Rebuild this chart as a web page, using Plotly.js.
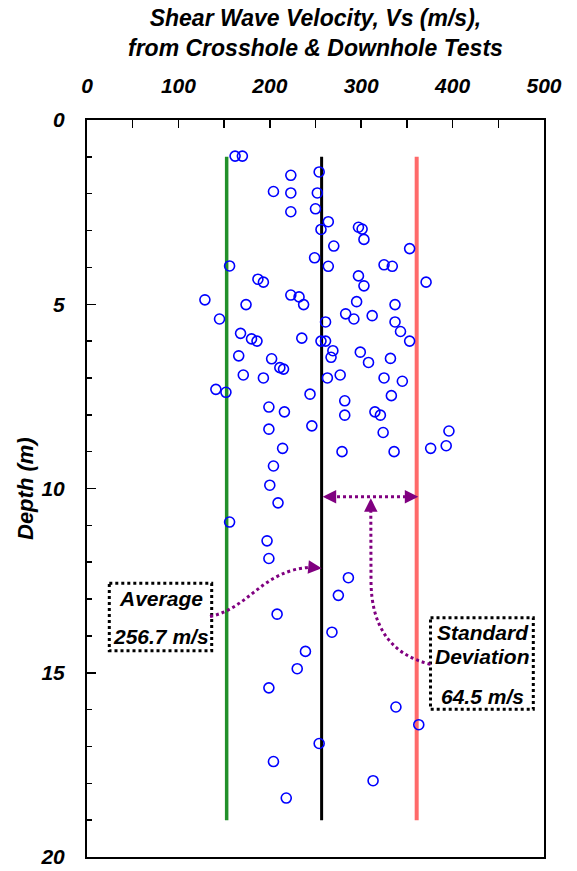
<!DOCTYPE html>
<html><head><meta charset="utf-8">
<script src="https://cdn.plot.ly/plotly-3.0.1.min.js"></script>
<style>html,body{margin:0;padding:0;background:#fff}#chart{width:577px;height:871px}</style>
</head><body><div id="chart"></div>
<script>
// Measured shear wave velocity (m/s) and depth (m)
const vs = [162,170,254,223,204,223,252,250,223,264,256,297,301,303,270,353,249,325,334,156,264,297,187,193,371,303,223,232,129,295,174,237,337,283,312,292,145,261,337,343,168,235,180,186,256,261,353,269,299,166,267,332,202,308,211,215,171,277,193,263,325,345,141,152,244,333,282,199,216,315,282,321,246,199,396,324,393,214,376,279,336,204,200,209,156,197,199,286,275,208,268,239,230,199,338,363,254,204,313,218];
const depth = [0.98,0.98,1.41,1.50,1.94,1.98,1.98,2.41,2.49,2.76,2.97,2.91,2.96,3.24,3.42,3.49,3.74,3.93,3.97,3.96,3.97,4.23,4.32,4.40,4.40,4.50,4.75,4.80,4.88,4.93,5.01,5.01,5.01,5.26,5.31,5.40,5.40,5.48,5.48,5.74,5.79,5.92,5.94,6.00,6.00,6.00,6.00,6.26,6.30,6.40,6.44,6.47,6.48,6.58,6.72,6.76,6.92,6.92,7.00,7.00,7.00,7.09,7.31,7.39,7.44,7.48,7.62,7.79,7.92,7.92,8.01,8.01,8.30,8.39,8.44,8.48,8.84,8.91,8.91,9.00,9.00,9.39,9.91,10.39,10.91,11.42,11.90,12.42,12.90,13.41,13.90,14.42,14.89,15.41,15.93,16.41,16.92,17.41,17.93,18.40];

// Statistics lines
const averageVs = 256.7;
const stdDevVs = 64.5;
const lowerLineVs = 152.8;
const upperLineVs = 360.7;
const lineDepths = [1, 19];

// Axis ticks
const xTickVals = [0,50,100,150,200,250,300,350,400,450,500];
const xTickText = ['0','','100','','200','','300','','400','','500'];

// plot-area geometry (pixels) for placing decorations
const L = 87, T = 120, W = 457, H = 737;
const dx = p => (p - L) / W * 500;
const dy = p => (p - T) / H * 20;
const pxp = p => (p - L) / W;
const pyp = p => (T + H - p) / H;

const FAM = '"Liberation Sans", Arial, Helvetica, sans-serif';
const bf = (size) => ({family: FAM, size: size, color: '#000', weight: 'bold', style: 'italic'});
const PURPLE = '#800080';

const traces = [
  {x: [lowerLineVs, lowerLineVs], y: lineDepths, mode: 'lines', line: {color: '#22902a', width: 3.5}, hoverinfo: 'skip'},
  {x: [averageVs, averageVs], y: lineDepths, mode: 'lines', line: {color: '#000', width: 3}, hoverinfo: 'skip'},
  {x: [upperLineVs, upperLineVs], y: lineDepths, mode: 'lines', line: {color: '#ff6a6a', width: 4}, hoverinfo: 'skip'},
  {x: vs, y: depth, mode: 'markers', marker: {symbol: 'circle-open', size: 10, color: '#0000ff', line: {width: 1.6, color: '#0000ff'}}}
];

function P(x, y) { return dx(x) + ',' + dy(y); }

const shapes = [
  {type: 'rect', xref: 'x', yref: 'y', x0: dx(109.3), x1: dx(211.7), y0: dy(583.3), y1: dy(650.7),
   line: {color: '#000', width: 3, dash: 'dot'}, fillcolor: 'rgba(255,255,255,0)', layer: 'above'},
  {type: 'rect', xref: 'x', yref: 'y', x0: dx(430.5), x1: dx(533.3), y0: dy(617.7), y1: dy(709.3),
   line: {color: '#000', width: 3, dash: 'dot'}, fillcolor: 'rgba(255,255,255,0)', layer: 'above'},
  {type: 'line', xref: 'x', yref: 'y', x0: dx(331), x1: dx(409), y0: dy(496.7), y1: dy(496.7),
   line: {color: PURPLE, width: 3, dash: 'dot'}, layer: 'above'},
  {type: 'path', xref: 'x', yref: 'y', path: 'M' + P(210, 616.5) + ' C' + P(250, 608) + ' ' + P(262, 570) + ' ' + P(311, 567.3),
   line: {color: PURPLE, width: 3, dash: 'dot'}, layer: 'above'},
  {type: 'path', xref: 'x', yref: 'y', path: 'M' + P(430.5, 664.3) + ' Q' + P(371, 650) + ' ' + P(371, 580) + ' L' + P(370.8, 508),
   line: {color: PURPLE, width: 3, dash: 'dot'}, layer: 'above'}
];

const arrow = (tx, ty, ax, ay) => ({x: dx(tx), y: dy(ty), xref: 'x', yref: 'y', ax: ax, ay: ay, text: '',
  showarrow: true, arrowhead: 2, arrowsize: 0.9, arrowwidth: 3, arrowcolor: PURPLE});

const annotations = [
  {text: 'Shear Wave Velocity, Vs (m/s),<br>from Crosshole &amp; Downhole Tests', xref: 'paper', yref: 'paper',
   x: 0.5, y: pyp(33.3), xanchor: 'center', yanchor: 'middle', showarrow: false, font: bf(23)},
  {text: 'Depth (m)', xref: 'paper', yref: 'paper', x: pxp(26), y: pyp(488), textangle: -90,
   xanchor: 'center', yanchor: 'middle', showarrow: false, font: bf(22)},
  {text: 'Average', xref: 'x', yref: 'y', x: dx(161), y: dy(598.3), showarrow: false, font: bf(21)},
  {text: averageVs.toFixed(1) + ' m/s', xref: 'x', yref: 'y', x: dx(161), y: dy(636.7), showarrow: false, font: bf(21)},
  {text: 'Standard', xref: 'x', yref: 'y', x: dx(482.5), y: dy(632.3), showarrow: false, font: bf(21)},
  {text: 'Deviation', xref: 'x', yref: 'y', x: dx(482.5), y: dy(656), showarrow: false, font: bf(21)},
  {text: stdDevVs.toFixed(1) + ' m/s', xref: 'x', yref: 'y', x: dx(482.5), y: dy(696.7), showarrow: false, font: bf(21)},
  arrow(321.7, 568.3, -11, -1),
  arrow(418.3, 496.7, -11, 0),
  arrow(322.7, 496.7, 11, 0),
  arrow(370.8, 498.3, 0, 11)
];

const layout = {
  width: 577, height: 871, autosize: false,
  margin: {l: L, r: 577 - L - W, t: T, b: 871 - T - H, pad: 0},
  paper_bgcolor: '#fff', plot_bgcolor: '#fff',
  showlegend: false,
  xaxis: {side: 'top', range: [0, 500], tickmode: 'array', tickvals: xTickVals, ticktext: xTickText,
    ticks: 'inside', ticklen: 8, tickwidth: 1.5, tickcolor: '#000',
    showline: true, mirror: true, linewidth: 2, linecolor: '#000',
    showgrid: false, zeroline: false, tickfont: bf(21), ticklabelstandoff: 17},
  yaxis: {range: [20, 0], tick0: 0, dtick: 5, ticks: 'inside', ticklen: 9, tickwidth: 1.5, tickcolor: '#000',
    minor: {dtick: 1, ticks: 'inside', ticklen: 5, tickwidth: 1.5, tickcolor: '#000', showgrid: false},
    showline: true, mirror: true, linewidth: 2, linecolor: '#000',
    showgrid: false, zeroline: false, tickfont: bf(21), ticklabelstandoff: 16},
  shapes: shapes,
  annotations: annotations
};

Plotly.newPlot('chart', traces, layout, {displayModeBar: false, staticPlot: true});
</script>
</body></html>
